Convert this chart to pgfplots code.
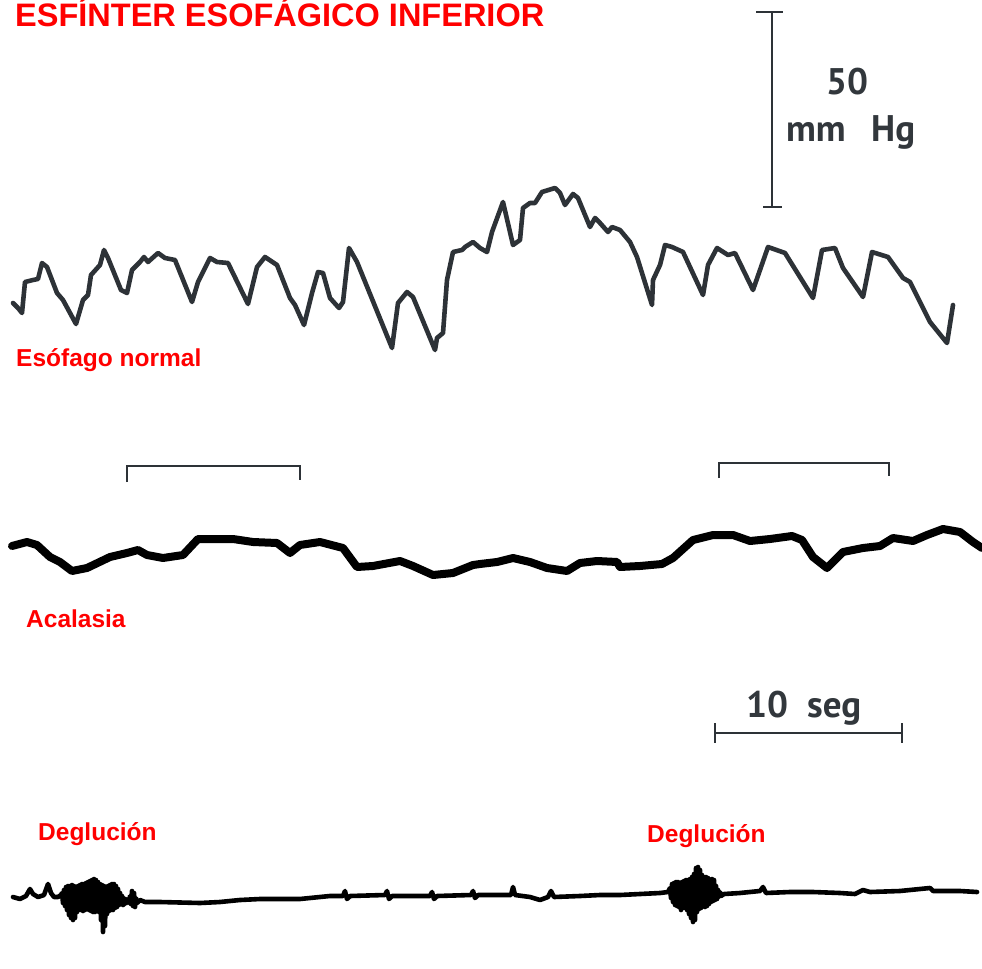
\documentclass[border=0pt]{standalone}
\usepackage{pgfplots}
\pgfplotsset{compat=1.18}
\usepackage{fontspec}
\setmainfont{Liberation Sans}
\newfontfamily\scalef{PT Sans}
\definecolor{trace}{RGB}{45,50,55}
\definecolor{scaletxt}{RGB}{50,55,60}
\begin{document}
\begin{tikzpicture}
\begin{axis}[width=982bp,height=969bp,scale only axis,
  xmin=0,xmax=982,ymin=0,ymax=969,y dir=reverse,hide axis,clip=false]
% Esófago normal
\addplot[trace,line width=4.6bp,line join=round,line cap=round] coordinates {
(13,303)(18,308)(22,313)(25,282)(33,280)(38,279)(42,263)(47,267)(57,293)(63,300)(76,324)(83,300)(88,295)(91,275)(100,265)(104,250)(108,258)(121,290)(127,293)(132,270)(140,262)(144,257)(148,262)(158,253)(165,258)(175,260)(192,302)(198,282)(210,258)(217,262)(228,263)(248,304)(257,267)(265,257)(277,265)(290,298)(295,305)(304,325)(312,293)(318,272)(323,273)(330,298)(339,308)(343,302)(349,248)(357,262)(392,348)(398,303)(407,292)(413,297)(435,350)(437,338)(443,333)(447,280)(453,252)(462,250)(465,247)(473,242)(480,248)(487,252)(492,232)(503,202)(513,245)(520,240)(523,208)(530,203)(535,203)(542,192)(555,188)(560,193)(565,205)(573,194)(578,198)(590,227)(595,218)(600,223)(608,232)(612,227)(620,230)(630,242)(637,257)(652,305)(653,280)(660,265)(665,245)(672,247)(683,252)(703,295)(708,265)(717,248)(728,255)(735,253)(753,290)(768,247)(785,253)(813,298)(822,250)(835,248)(843,268)(863,297)(872,252)(888,257)(903,278)(910,282)(930,322)(947,343)(953,305)
};
% Acalasia
\addplot[black,line width=8bp,line join=round,line cap=round] coordinates {
(12,546)(27,542)(37,545)(50,557)(60,562)(72,571)(87,568)(110,557)(127,553)(138,550)(147,555)(163,558)(183,555)(198,539)(217,539)(233,539)(253,542)(277,543)(290,553)(300,545)(320,542)(343,548)(357,567)(373,566)(400,561)(413,566)(433,575)(453,573)(473,565)(480,564)(497,562)(513,558)(530,562)(547,568)(567,571)(580,563)(597,561)(617,562)(620,567)(640,566)(662,564)(673,558)(693,540)(713,535)(733,535)(750,541)(770,539)(792,536)(802,540)(813,557)(827,568)(843,552)(863,548)(880,546)(893,538)(913,541)(927,535)(943,529)(960,532)(973,542)(982,548)
};
% Deglucion
\addplot[black,line width=4.6bp,line join=round,line cap=round] coordinates {
(13,897)(20,899)(26,896)(30,889)(33,894)(38,897)(44,895)(48,884)(51,893)(54,897)(58,897)(61,895)
(62,893)(63,903)(64,890)(65,906)(66,887)(67,910)(68,886)(69,915)(70,886)(71,918)(72,885)(73,920)(74,886)(75,918)(76,887)(77,912)(78,886)(79,910)(80,885)(81,910)(82,884)(83,911)(84,884)(85,910)(86,883)(87,909)(88,882)(89,910)(90,881)(91,911)(92,880)(93,912)(94,879)(95,912)(96,880)(97,911)(98,882)(99,912)(100,884)(101,920)(102,885)(103,932)(104,886)(105,926)(106,887)(107,914)(108,886)(109,911)(110,885)(111,910)(112,884)(113,910)(114,884)(115,908)(116,886)(117,907)(118,889)(119,905)(120,893)(121,904)(122,896)(123,905)(124,898)(125,904)(126,899)(127,903)(128,899)(129,903)(130,896)(131,904)(132,891)(133,906)(134,893)(135,907)(136,898)(137,903)
(140,900)(145,902)(160,902)(200,903)(220,902)(240,900)(260,899)(300,899)(330,896)(343,896)(345,891)(347,899)(350,896)(385,895)(387,891)(389,899)(392,896)(430,896)(432,892)(434,899)(437,896)(471,895)(473,891)(475,898)(478,895)(500,895)(511,895)(513,887)(515,895)(530,897)(540,900)(548,897)(551,891)(554,897)(580,896)(600,895)(620,895)(640,894)(660,893)(668,892)
(670,888)(671,898)(672,884)(673,902)(674,883)(675,905)(676,882)(677,906)(678,882)(679,907)(680,883)(681,910)(682,882)(683,908)(684,881)(685,908)(686,880)(687,910)(688,880)(689,914)(690,879)(691,918)(692,877)(693,922)(694,874)(695,920)(696,868)(697,912)(698,867)(699,909)(700,870)(701,908)(702,875)(703,906)(704,877)(705,907)(706,877)(707,906)(708,878)(709,904)(710,880)(711,902)(712,879)(713,901)(714,880)(715,900)(716,886)(717,899)(718,890)(719,897)(720,892)(721,896)
(724,894)(740,893)(760,891)(763,887)(766,893)(790,892)(813,892)(840,893)(855,894)(863,890)(870,892)(900,891)(930,888)(933,891)(960,891)(977,892)
};
% brackets
\addplot[trace,line width=2.2bp] coordinates {(127,482)(127,466)(300,466)(300,480)};
\addplot[trace,line width=2.2bp] coordinates {(719,478)(719,463)(889,463)(889,476)};
% 50 mm Hg scale bar
\addplot[trace,line width=2.2bp] coordinates {(772,12)(772,207)};
\addplot[trace,line width=2.2bp] coordinates {(756,12)(783,12)};
\addplot[trace,line width=2.2bp] coordinates {(763,207)(782,207)};
% 10 seg scale bar
\addplot[trace,line width=2.2bp] coordinates {(715,733)(902,733)};
\addplot[trace,line width=2.2bp] coordinates {(715,723)(715,743)};
\addplot[trace,line width=2.2bp] coordinates {(902,723)(902,743)};
% texts
\node[anchor=base west,inner sep=0,text=red,font=\fontsize{32.5bp}{36bp}\selectfont\bfseries] at (axis cs:15,27) {ESFÍNTER ESOFÁGICO INFERIOR};
\node[anchor=base west,inner sep=0,text=red,font=\fontsize{24.5bp}{28bp}\selectfont\bfseries] at (axis cs:16,366) {Esófago normal};
\node[anchor=base west,inner sep=0,text=red,font=\fontsize{24.5bp}{28bp}\selectfont\bfseries] at (axis cs:26,627) {Acalasia};
\node[anchor=base west,inner sep=0,text=red,font=\fontsize{24.5bp}{28bp}\selectfont\bfseries] at (axis cs:38,840) {Deglución};
\node[anchor=base west,inner sep=0,text=red,font=\fontsize{24.5bp}{28bp}\selectfont\bfseries] at (axis cs:647,842) {Deglución};
\node[anchor=base west,inner sep=0,text=scaletxt,font=\scalef\fontsize{37bp}{40bp}\selectfont\bfseries] at (axis cs:826,95) {50};
\node[anchor=base west,inner sep=0,text=scaletxt,font=\scalef\fontsize{37bp}{40bp}\selectfont\bfseries] at (axis cs:786,142) {mm};
\node[anchor=base west,inner sep=0,text=scaletxt,font=\scalef\fontsize{37bp}{40bp}\selectfont\bfseries] at (axis cs:871,142) {Hg};
\node[anchor=base west,inner sep=0,text=scaletxt,font=\scalef\fontsize{37bp}{40bp}\selectfont\bfseries] at (axis cs:746,717) {10};
\node[anchor=base west,inner sep=0,text=scaletxt,font=\scalef\fontsize{37bp}{40bp}\selectfont\bfseries] at (axis cs:807,717) {seg};
\end{axis}
\pgfresetboundingbox
\useasboundingbox (current axis.south west) rectangle (current axis.north east);
\end{tikzpicture}
\end{document}
